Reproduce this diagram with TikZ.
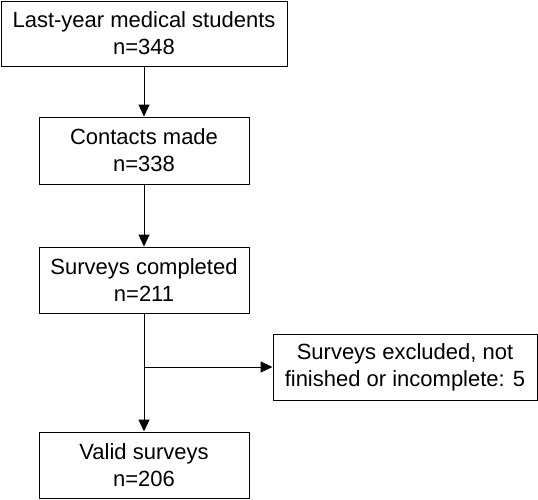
\documentclass[tikz,border=0pt]{standalone}
\usepackage{fontspec}
\setmainfont{Liberation Sans}
\usetikzlibrary{arrows.meta}
\tikzset{
  box/.style={draw, line width=1pt, align=center, inner sep=0pt,
    font=\fontsize{22}{27}\selectfont},
  arr/.style={-{Triangle[width=11pt,length=12pt]}, line width=1pt}
}

\begin{document}
\begin{tikzpicture}[x=1pt,y=1pt]
      \useasboundingbox (0,0) rectangle (538,-499);

      \node[box, minimum width=286pt, minimum height=65pt] (students) at (144,-33.5) {Last-year medical students\\n=348};
      \node[box, minimum width=210pt, minimum height=67pt] (contacts) at (144,-150.5) {Contacts made\\n=338};
      \node[box, minimum width=210pt, minimum height=66pt] (completed) at (144,-280) {Surveys completed\\n=211};
      \node[box, minimum width=264pt, minimum height=66pt] (excluded) at (405,-367) {Surveys excluded, not\\finished or incomplete: 5};
      \node[box, minimum width=210pt, minimum height=66pt] (valid) at (144,-465) {Valid surveys\\n=206};

      \draw[arr] (students) -- (contacts);
      \draw[arr] (contacts) -- (completed);
      \draw[arr] (completed) -- (valid);

      % branch off to the excluded ones
      \coordinate (branch) at (completed.south |- excluded.west);
      \draw[arr] (branch) -- (excluded.west);
    \end{tikzpicture}
\end{document}
